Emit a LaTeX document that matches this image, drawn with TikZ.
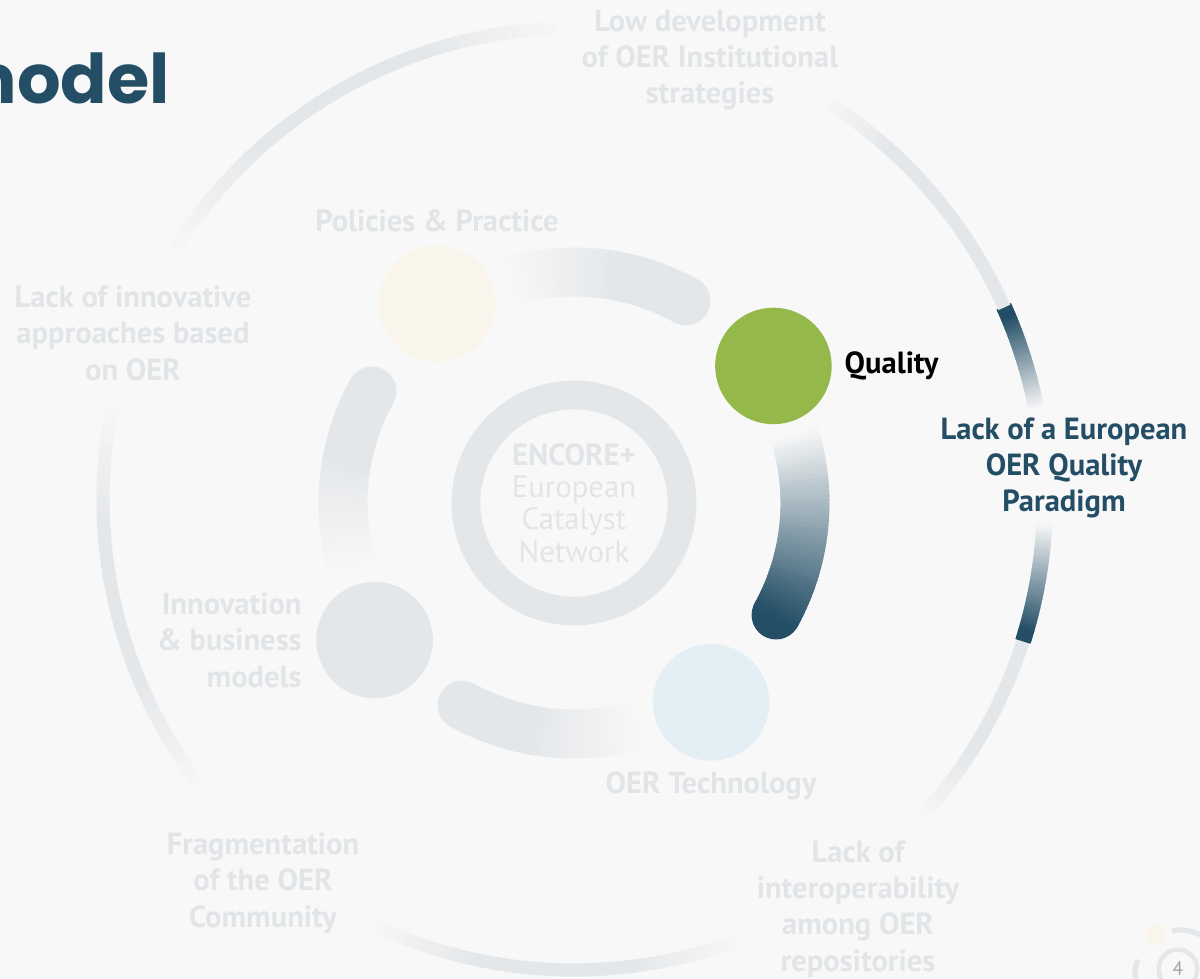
\documentclass[tikz,border=0pt]{standalone}
\usepackage{fontspec}
\setmainfont{PT Sans}
\newfontfamily\titlefont{Poppins}
\usetikzlibrary{positioning}

\definecolor{pagebg}{HTML}{F8F8F8}
\definecolor{ringgray}{HTML}{E4E7EA}
\definecolor{fadetext}{HTML}{E2E5E8}
\definecolor{oerteal}{HTML}{234E66}
\definecolor{qualgreen}{HTML}{95B84A}
\definecolor{polcream}{HTML}{FAF5EA}
\definecolor{innogray}{HTML}{E4E7EA}
\definecolor{techblue}{HTML}{E3EEF5}

\newcommand{\rimr}{471}
\newcommand{\flowr}{231}
\newcommand{\rimw}{7.4pt}
\newcommand{\rimdark}{9pt}

% arc drawn in short pieces, colour faded towards the page at either end
% #1 from, #2 to, #3 colour, #4 radius, #5 width, #6 fade-in share, #7 fade-out share
\newcommand{\ringpiece}[7]{%
  \foreach \k in {0,...,47}{%
    \pgfmathsetmacro{\angA}{#1+(#2-#1)*\k/48}%
    \pgfmathsetmacro{\angB}{#1+(#2-#1)*(\k+1.6)/48}%
    \pgfmathsetmacro{\tpos}{(\k+0.5)/48}%
    \pgfmathsetmacro{\pin}{min(1,\tpos/max(#6,0.0001))}%
    \pgfmathsetmacro{\pout}{min(1,(1-\tpos)/max(#7,0.0001))}%
    \pgfmathtruncatemacro{\pc}{100*min(\pin,\pout)}%
    \draw[#3!\pc!pagebg, line width=#5] (\angA:#4) arc[start angle=\angA, end angle=\angB, radius=#4];%
  }%
}
% thick flow between two bubbles, round end
\newcommand{\flowarc}[4]{%
  \fill[#3] (#2:\flowr) circle[radius=24.5];%
  \ringpiece{#1}{#2}{#3}{\flowr}{27.8pt}{#4}{0}%
}

\begin{document}
\begin{tikzpicture}[x=0.02cm, y=0.02cm,
    bubble/.style={circle, minimum size=66.3pt, inner sep=0pt},
    faded/.style={text=fadetext, font=\bfseries\fontsize{17.4}{20.7}\selectfont, align=center, inner sep=0pt},
    title/.style={text=oerteal, font=\titlefont\bfseries\fontsize{39}{46}\selectfont, inner sep=0pt, anchor=base east}]
    \fill[pagebg] (0,0) rectangle (1200,978);
    \useasboundingbox (0,0) rectangle (1200,978);

    \node[title] (heading) at (170,874) {model};

    % outer ring of gaps
    \begin{scope}[shift={(574,479)}]
        \ringpiece{91}{149}{ringgray}{\rimr}{\rimw}{0.3}{0.3}
        \ringpiece{168}{218}{ringgray}{\rimr}{\rimw}{0.3}{0.3}
        \ringpiece{244}{291}{ringgray}{\rimr}{\rimw}{0.3}{0.3}
        \ringpiece{317}{342.4}{ringgray}{\rimr}{\rimw}{0.4}{0}
        \ringpiece{342.4}{357}{oerteal}{\rimr}{\rimdark}{0}{0.9}
        \ringpiece{11}{24}{oerteal}{\rimr}{\rimdark}{0.9}{0}
        \ringpiece{24}{58}{ringgray}{\rimr}{\rimw}{0}{0.3}
    \end{scope}

    \node[faded] (lowdev) at (710,918) {Low development\\of OER Institutional\\strategies};
    \node[faded] (innovative) at (133,645) {Lack of innovative\\approaches based\\on OER};
    \node[faded] (fragment) at (263,95) {Fragmentation\\of the OER\\Community};
    \node[faded] (interop) at (858,69) {Lack of\\interoperability\\among OER\\repositories};
    \node[faded, text=oerteal] (european) at (1064,510) {Lack of a European\\OER Quality\\Paradigm};

    % flows and bubbles
    \begin{scope}[shift={(574,475)}]
        \flowarc{107.5}{61}{ringgray}{0.6}
        \flowarc{17.5}{-29}{oerteal}{1}
        \flowarc{-72.5}{-119}{ringgray}{0.6}
        \flowarc{197.5}{151}{ringgray}{0.6}

        \node[circle, draw=ringgray, line width=16.4pt, minimum size=123pt, inner sep=0pt,
              text=fadetext, align=center, font=\fontsize{17.5}{18.4}\selectfont] (hub) at (0,0)
              {\textbf{ENCORE+}\\European\\Catalyst\\Network};

        \node[bubble, fill=polcream] (policies) at (124.5:242) {};
        \node[bubble, fill=qualgreen] (quality) at (34.5:242) {};
        \node[bubble, fill=innogray] (innovation) at (214.5:242) {};
        \node[bubble, fill=techblue] (technology) at (304.5:242) {};
    \end{scope}

    \node[faded, above=7pt of policies] (policieslabel) {Policies \& Practice};
    \node[faded, text=black, right=7pt of quality] (qualitylabel) {Quality};
    \node[faded, align=right, left=8pt of innovation] (innovationlabel) {Innovation\\\& business\\models};
    \node[faded, below=6pt of technology] (technologylabel) {OER Technology};

    % page mark
    \fill[polcream] (1155,43) circle[radius=10];
    \draw[ringgray, line width=3pt] (1180,3) ++(160:45) arc[start angle=160, end angle=185, radius=45];
    \draw[ringgray, line width=3pt] (1180,3) ++(100:45) arc[start angle=100, end angle=60, radius=45];
    \node[circle, draw=ringgray, line width=2.5pt, minimum size=22pt, inner sep=0pt,
          text=ringgray!70!black, font=\fontsize{11}{11}\selectfont] (pagenum) at (1178,9) {4};
\end{tikzpicture}
\end{document}
